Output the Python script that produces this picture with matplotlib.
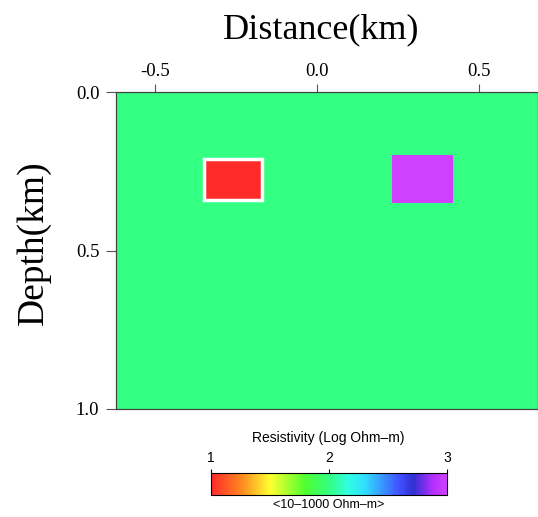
import numpy as np
import matplotlib
matplotlib.use("Agg")
import matplotlib.pyplot as plt
from matplotlib.colors import LinearSegmentedColormap, Normalize
from matplotlib.patches import Rectangle

# model: background resistivity (log10 ohm-m) and two blocks
background = 2.0
block_names = ["conductor", "resistor"]
block_x = [(-0.35, -0.17), (0.23, 0.42)]      # km
block_z = [(0.21, 0.34), (0.20, 0.35)]        # km depth
block_logrho = [1.0, 3.0]

x_ticks = [-0.5, 0.0, 0.5]
z_ticks = [0.0, 0.5, 1.0]
cbar_ticks = [1, 2, 3]

cmap = LinearSegmentedColormap.from_list("res", [
    (0.00, "#ff2a2a"), (0.12, "#ff8020"), (0.25, "#ffff30"),
    (0.40, "#50ff30"), (0.50, "#33ff80"), (0.58, "#30ffe0"),
    (0.65, "#30e0ff"), (0.80, "#4050ff"), (0.86, "#3030d0"),
    (0.94, "#b030ff"), (1.00, "#d040ff")])
norm = Normalize(1, 3)

fig = plt.figure(figsize=(5.38, 5.17), dpi=100)
ax = fig.add_axes([0.2156, 0.2089, 0.7844, 0.6131])

# build the grid from the model
xg = np.linspace(-0.65, 0.72, 686)
zg = np.linspace(0, 1.0, 501)
X, Z = np.meshgrid(0.5 * (xg[1:] + xg[:-1]), 0.5 * (zg[1:] + zg[:-1]))
model = np.full(X.shape, background)
for (x0, x1), (z0, z1), v in zip(block_x, block_z, block_logrho):
    model[(X >= x0) & (X <= x1) & (Z >= z0) & (Z <= z1)] = v
mesh = ax.pcolormesh(xg, zg, model, cmap=cmap, norm=norm, shading="flat")

# white outline on the conductive block
(x0, x1), (z0, z1) = block_x[0], block_z[0]
ax.add_patch(Rectangle((x0, z0), x1 - x0, z1 - z0, fill=False,
                       edgecolor="white", lw=2.5))

ax.set_xlim(-0.622, 0.683)
ax.set_ylim(1.0, 0.0)
ax.xaxis.tick_top()
ax.set_xticks(x_ticks)
ax.set_xticklabels(["%.1f" % t for t in x_ticks])
ax.set_yticks(z_ticks)
ax.set_yticklabels(["%.1f" % t for t in z_ticks])
ax.tick_params(axis="x", direction="out", length=6, width=0.8, color="#555555",
               labelsize=13.5, pad=3)
ax.tick_params(axis="y", direction="out", length=7, width=0.8, color="#555555",
               labelsize=13.5, pad=5)
for lab in ax.get_xticklabels() + ax.get_yticklabels():
    lab.set_family("Liberation Serif")
for s in ax.spines.values():
    s.set_color("#444444")
    s.set_linewidth(0.9)

ax.set_xlabel("Distance(km)", family="Liberation Serif", fontsize=26)
ax.xaxis.set_label_position("top")
ax.xaxis.set_label_coords(0.486, 1.196)
ax.xaxis.label.set_va("center")
ax.set_ylabel("Depth(km)", family="Liberation Serif", fontsize=27)
ax.yaxis.set_label_coords(-0.195, 0.525)
ax.yaxis.label.set_va("center")

# colour bar
cax = fig.add_axes([0.392, 0.0426, 0.4387, 0.0426])
cb = fig.colorbar(mesh, cax=cax, orientation="horizontal", ticks=cbar_ticks)
cax.xaxis.tick_top()
cax.tick_params(length=3, width=0.8, labelsize=10, pad=2.5)
for lab in cax.get_xticklabels():
    lab.set_family("Liberation Sans")
cb.outline.set_linewidth(0.8)
fig.text(0.610, 1 - 438 / 517, "Resistivity (Log Ohm\u2013m)", ha="center",
         va="center", fontsize=10, family="Liberation Sans")
fig.text(0.610, 1 - 505 / 517, "<10\u20131000 Ohm\u2013m>", ha="center",
         va="center", fontsize=9, family="Liberation Sans")

fig.savefig("out.png", dpi=100)
